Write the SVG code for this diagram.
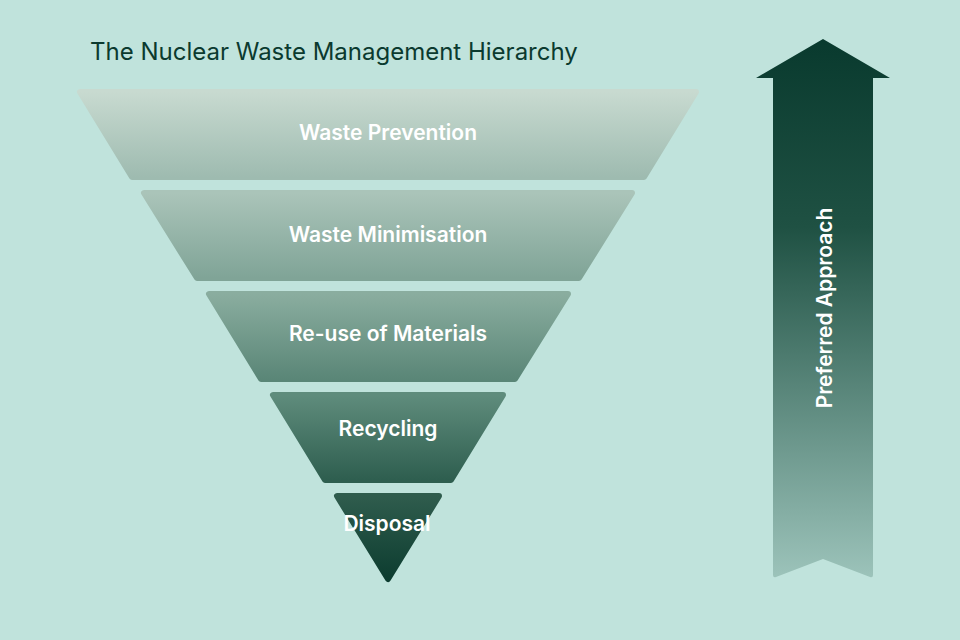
<svg xmlns="http://www.w3.org/2000/svg" width="960" height="640" viewBox="0 0 960 640">
<defs>
<linearGradient id="g1" x1="0" y1="0" x2="0" y2="1"><stop offset="0" stop-color="#c8dad0"/><stop offset="1" stop-color="#9ebbb0"/></linearGradient>
<linearGradient id="g2" x1="0" y1="0" x2="0" y2="1"><stop offset="0" stop-color="#aac4b9"/><stop offset="1" stop-color="#80a497"/></linearGradient>
<linearGradient id="g3" x1="0" y1="0" x2="0" y2="1"><stop offset="0" stop-color="#8aad9f"/><stop offset="1" stop-color="#5a8677"/></linearGradient>
<linearGradient id="g4" x1="0" y1="0" x2="0" y2="1"><stop offset="0" stop-color="#5f8c7c"/><stop offset="1" stop-color="#2e5e4f"/></linearGradient>
<linearGradient id="g5" x1="0" y1="0" x2="0" y2="1"><stop offset="0" stop-color="#2f5c4d"/><stop offset="1" stop-color="#0d3d30"/></linearGradient>
<linearGradient id="ga" x1="0" y1="0" x2="0" y2="1"><stop offset="0" stop-color="#093a2e"/><stop offset="0.35" stop-color="#1f5143"/><stop offset="1" stop-color="#9cc3ba"/></linearGradient>
<style>
.lbl{font-family:"Inter","Liberation Sans",sans-serif;font-weight:600;font-size:21px;fill:#ffffff;text-anchor:middle}
.shape{stroke-linejoin:round;stroke-width:6}
</style>
</defs>
<rect width="960" height="640" fill="#c0e3dc"/>
<text x="90" y="60" font-family="Inter, 'Liberation Sans', sans-serif" font-size="24" fill="#0b3a2f">The Nuclear Waste Management Hierarchy</text>
<g id="layer1"><path class="shape" d="M80,92 L696,92 L644,177 L132,177 Z" fill="url(#g1)" stroke="url(#g1)"/><text class="lbl" x="388" y="140">Waste Prevention</text></g>
<g id="layer2"><path class="shape" d="M144,193 L632,193 L579,278 L197,278 Z" fill="url(#g2)" stroke="url(#g2)"/><text class="lbl" x="388" y="242">Waste Minimisation</text></g>
<g id="layer3"><path class="shape" d="M209,294 L568,294 L515,379 L261,379 Z" fill="url(#g3)" stroke="url(#g3)"/><text class="lbl" x="388" y="341">Re-use of Materials</text></g>
<g id="layer4"><path class="shape" d="M273,395 L503,395 L451,480 L325,480 Z" fill="url(#g4)" stroke="url(#g4)"/><text class="lbl" x="388" y="436">Recycling</text></g>
<g id="layer5"><path class="shape" d="M337,496 L439,496 L388,579 Z" fill="url(#g5)" stroke="url(#g5)"/><text class="lbl" x="387" y="531">Disposal</text></g>
<g id="arrow"><path d="M823,39 L890,78 L873,78 L873,575 Q873,578 870,577 L823,559 L776,577 Q773,578 773,575 L773,78 L756,78 Z" fill="url(#ga)" stroke-linejoin="round"/>
<text class="lbl" transform="translate(832,308) rotate(-90)" x="0" y="0">Preferred Approach</text></g>
<g id="connectors"/>
</svg>
